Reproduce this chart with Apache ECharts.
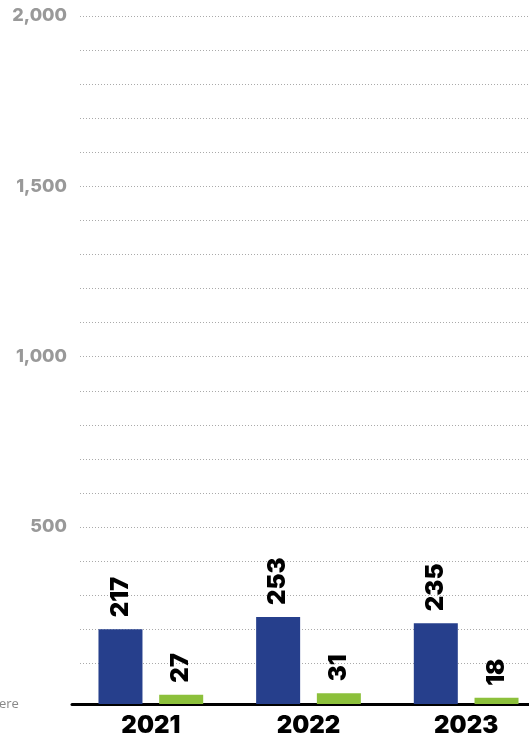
<!DOCTYPE html>
<html>
<head>
<meta charset="utf-8">
<script src="https://cdn.jsdelivr.net/npm/echarts@6/dist/echarts.min.js"></script>
<style>html,body{margin:0;padding:0;background:#fff;overflow:hidden;width:529px;height:738px;}#c{width:546px;height:738px;}</style>
</head>
<body>
<div id="c"></div>
<script>
const categories = ['2021', '2022', '2023'];
const seriesA = [217, 253, 235];
const seriesB = [27, 31, 18];
const yTickLabels = [500, 1000, 1500, 2000];

const chart = echarts.init(document.getElementById('c'), null, {renderer: 'canvas'});
const labelStyle = {
  show: true, position: 'top', rotate: 90, align: 'left', verticalAlign: 'middle',
  distance: 12, fontFamily: 'Inter', fontWeight: 900, fontSize: 24, color: '#000'
};
chart.setOption({
  animation: false,
  backgroundColor: '#fff',
  grid: [
    {left: 80, top: 16, width: 466, height: 681.4, containLabel: false},
    {left: 72, top: 16, width: 473, height: 691, containLabel: false}
  ],
  xAxis: [
    {gridIndex: 0, type: 'category', data: categories, show: false},
    {gridIndex: 1, type: 'category', data: categories,
     axisLine: {show: true, lineStyle: {color: '#000', width: 3}},
     axisTick: {show: false},
     axisLabel: {color: '#000', fontFamily: 'Inter', fontWeight: 900, fontSize: 24, margin: 10}}
  ],
  yAxis: [
    {gridIndex: 0, type: 'value', min: 0, max: 2000, interval: 100,
     axisLine: {show: false}, axisTick: {show: false},
     splitLine: {show: true, showMinLine: false, lineStyle: {color: '#aaa', width: 1, type: [1, 2]}},
     axisLabel: {margin: 13, color: '#999', fontFamily: 'Inter', fontWeight: 800, fontSize: 18,
       formatter: v => yTickLabels.includes(v) ? v.toLocaleString('en-US') : ''}},
    {gridIndex: 1, type: 'value', min: 0, max: 2000, show: false, splitLine: {show: false}}
  ],
  series: [
    {type: 'bar', xAxisIndex: 1, yAxisIndex: 1, data: seriesA, barWidth: 44, barGap: '38%',
     itemStyle: {color: '#263f8c'}, label: labelStyle},
    {type: 'bar', xAxisIndex: 1, yAxisIndex: 1, data: seriesB, barWidth: 44, barGap: '38%',
     itemStyle: {color: '#8cc03b'}, label: labelStyle}
  ],
  graphic: [
    {type: 'text', left: -9, top: 698,
     style: {text: 'here', fontFamily: 'Open Sans', fontSize: 13, fill: '#888'}}
  ]
});
</script>
</body>
</html>
